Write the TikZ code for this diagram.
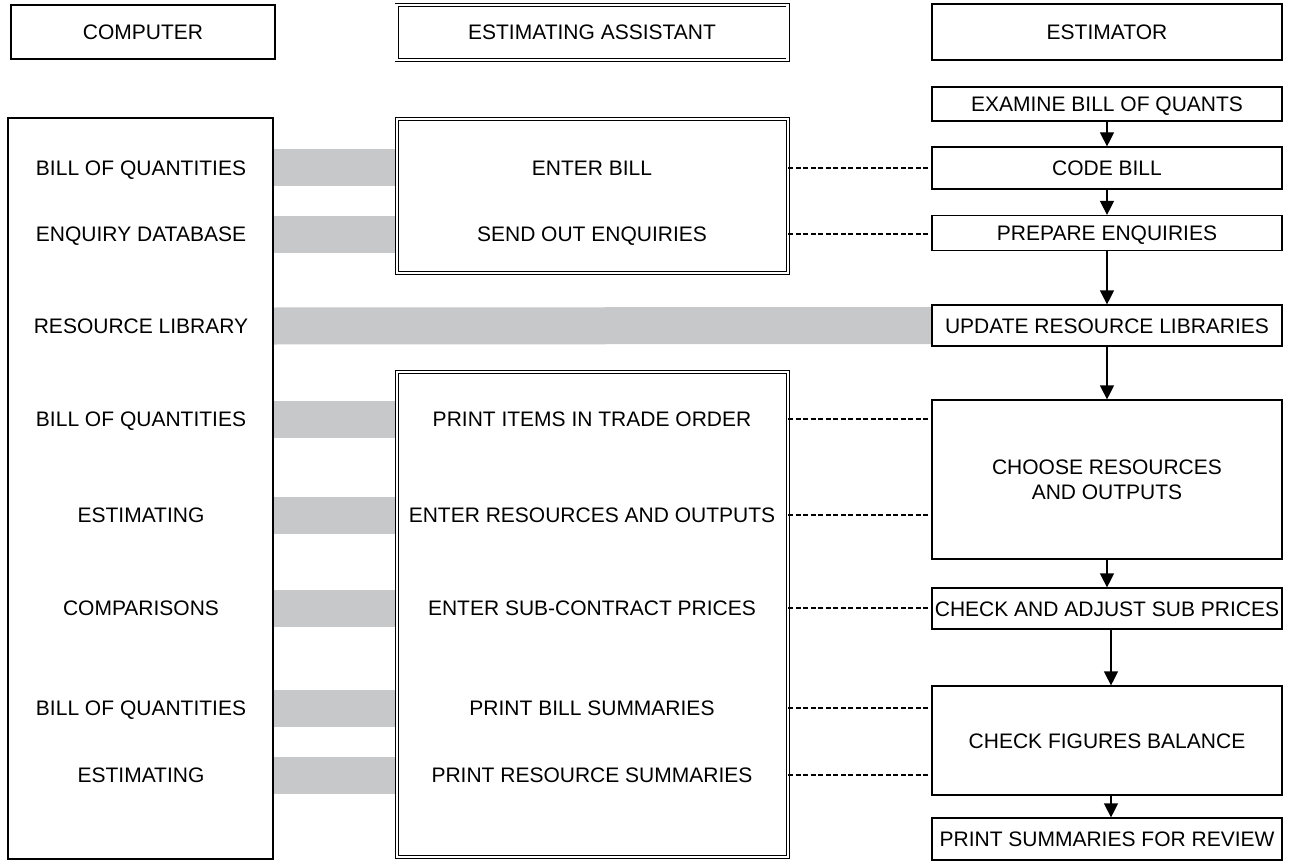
\documentclass[tikz,border=0pt]{standalone}
\usepackage{fontspec}
\setmainfont{Liberation Sans}
\usetikzlibrary{positioning,arrows.meta,backgrounds}
\definecolor{bargray}{RGB}{199,200,202}
\tikzset{
  box/.style={draw,line width=1.2pt,inner sep=0pt,align=center},
  dbox/.style={draw,line width=0.9pt,double=white,double distance=2.2pt,inner sep=0pt},
  capline/.style={text height=15pt,text depth=0pt},
  lbl/.style={inner sep=0pt,capline},
  bar/.style={draw=bargray,line width=37pt},
  link/.style={dash pattern=on 5pt off 2.5pt,line width=1.1pt},
  flow/.style={line width=1.2pt,-{Triangle[width=14pt,length=14pt]}},
}
\begin{document}
\begin{tikzpicture}[x=1pt,y=-1pt,font=\fontsize{21}{25}\selectfont]
\useasboundingbox (0,0) rectangle (1292,861);
% column headings
\node[box,capline,minimum width=264pt,minimum height=54pt] (comphead) at (143,32) {COMPUTER};
\node[dbox,capline,minimum width=391pt,minimum height=55pt] (assthead) at (592,32.5) {ESTIMATING ASSISTANT};
\node[box,capline,minimum width=350pt,minimum height=56pt] (estmhead) at (1107,32) {ESTIMATOR};
% computer
\node[box,minimum width=265pt,minimum height=741pt] (compbox) at (140.5,488.5) {};
\node[lbl] (cbqa) at (141,168) {BILL OF QUANTITIES};
\node[lbl] (cenq) at (141,234) {ENQUIRY DATABASE};
\node[lbl] (creslib) at (141,326) {RESOURCE LIBRARY};
\node[lbl] (cbqb) at (141,419) {BILL OF QUANTITIES};
\node[lbl] (cesta) at (141,515) {ESTIMATING};
\node[lbl] (ccomp) at (141,608) {COMPARISONS};
\node[lbl] (cbqc) at (141,708) {BILL OF QUANTITIES};
\node[lbl] (cestb) at (141,775) {ESTIMATING};
% estimating assistant
\node[dbox,minimum width=391pt,minimum height=154pt] (asstup) at (592.5,196) {};
\node[dbox,minimum width=391pt,minimum height=485pt] (asstlow) at (592.5,614.5) {};
\node[lbl] (aenter) at (592,168) {ENTER BILL};
\node[lbl] (asend) at (592,234) {SEND OUT ENQUIRIES};
\node[lbl] (aprint) at (592,419) {PRINT ITEMS IN TRADE ORDER};
\node[lbl] (aentres) at (592,515) {ENTER RESOURCES AND OUTPUTS};
\node[lbl] (asub) at (592,608) {ENTER SUB-CONTRACT PRICES};
\node[lbl] (abill) at (592,708) {PRINT BILL SUMMARIES};
\node[lbl] (ares) at (592,775) {PRINT RESOURCE SUMMARIES};
% estimator
\node[box,capline,minimum width=350pt,minimum height=34pt] (exam) at (1107,104) {EXAMINE BILL OF QUANTS};
\node[box,capline,minimum width=350pt,minimum height=42pt] (code) at (1107,168) {CODE BILL};
\node[box,capline,minimum width=350pt,minimum height=35pt] (prep) at (1107,233) {PREPARE ENQUIRIES};
\node[box,capline,minimum width=350pt,minimum height=41pt] (upd) at (1107,325.5) {UPDATE RESOURCE LIBRARIES};
\node[box,minimum width=350pt,minimum height=159pt] (choose) at (1107,479.5) {CHOOSE RESOURCES\\AND OUTPUTS};
\node[box,capline,minimum width=350pt,minimum height=41pt] (adj) at (1107,608.5) {CHECK AND ADJUST SUB PRICES};
\node[box,capline,minimum width=350pt,minimum height=109pt] (fig) at (1107,740.5) {CHECK FIGURES BALANCE};
\node[box,capline,minimum width=350pt,minimum height=42pt] (prt) at (1107,839) {PRINT SUMMARIES FOR REVIEW};
% grey links from the computer
\begin{scope}[on background layer]
\draw[bar] (cbqa -| compbox.east) -- (cbqa -| asstup.west);
\draw[bar] (cenq -| compbox.east) -- (cenq -| asstup.west);
\draw[bar] (creslib -| compbox.east) -- (upd.west);
\draw[bar] (cbqb -| compbox.east) -- (cbqb -| asstlow.west);
\draw[bar] (cesta -| compbox.east) -- (cesta -| asstlow.west);
\draw[bar] (ccomp -| compbox.east) -- (ccomp -| asstlow.west);
\draw[bar] (cbqc -| compbox.east) -- (cbqc -| asstlow.west);
\draw[bar] (cestb -| compbox.east) -- (cestb -| asstlow.west);
\end{scope}
% dashed links to the estimator
\draw[link] (aenter -| asstup.east) -- (aenter -| code.west);
\draw[link] (asend -| asstup.east) -- (asend -| prep.west);
\draw[link] (aprint -| asstlow.east) -- (aprint -| choose.west);
\draw[link] (aentres -| asstlow.east) -- (aentres -| choose.west);
\draw[link] (asub -| asstlow.east) -- (asub -| adj.west);
\draw[link] (abill -| asstlow.east) -- (abill -| fig.west);
\draw[link] (ares -| asstlow.east) -- (ares -| fig.west);
% estimator sequence
\draw[flow] (exam) -- (code);
\draw[flow] (code) -- (prep);
\draw[flow] (prep) -- (upd);
\draw[flow] (upd) -- (choose);
\draw[flow] (choose) -- (adj);
\draw[flow] ([xshift=4pt]adj.south) -- ([xshift=4pt]fig.north);
\draw[flow] ([xshift=4pt]fig.south) -- ([xshift=4pt]prt.north);
\end{tikzpicture}
\end{document}
